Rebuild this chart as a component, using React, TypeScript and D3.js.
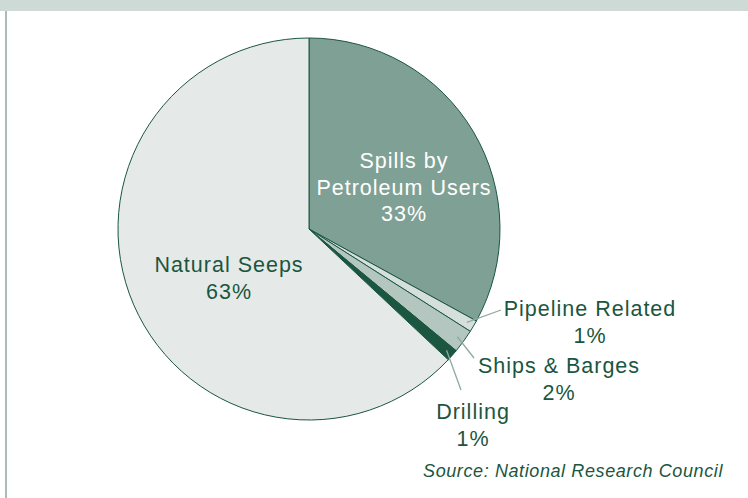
import React, { useEffect, useRef } from 'react';
import * as d3 from 'd3';

// data
const categories = ['Spills by Petroleum Users', 'Pipeline Related', 'Ships & Barges', 'Drilling', 'Natural Seeps'];
const shares = [33, 1, 2, 1, 63];
const labelLines = [
  ['Spills by', 'Petroleum Users', '33%'],
  ['Pipeline Related', '1%'],
  ['Ships & Barges', '2%'],
  ['Drilling', '1%'],
  ['Natural Seeps', '63%'],
];
const sourceNote = 'Source: National Research Council';

const fills = ['#7fa195', '#d5e0dc', '#b3c6bf', '#1b5640', '#e5eae8'];
const ink = '#1b5640';

interface Slice {
  name: string;
  value: number;
  lines: string[];
  fill: string;
}

const slices: Slice[] = categories.map((name, i) => ({
  name,
  value: shares[i],
  lines: labelLines[i],
  fill: fills[i],
}));

// label placement: centre x, first baseline, colour, leader end (null = no leader)
const labelLayout: { x: number; y: number; color: string; leader: [number, number] | null }[] = [
  { x: 404, y: 168, color: '#ffffff', leader: null },
  { x: 590, y: 316, color: ink, leader: [501, 310] },
  { x: 559, y: 373, color: ink, leader: [474, 358] },
  { x: 473, y: 419, color: ink, leader: [461, 390] },
  { x: 229, y: 272, color: ink, leader: null },
];

const Chart: React.FC = () => {
  const svgRef = useRef<SVGSVGElement | null>(null);

  useEffect(() => {
    document.body.style.margin = '0';
    if (!svgRef.current) return;

    const width = 748;
    const height = 498;
    const cx = 309;
    const cy = 229;
    const radius = 191;

    const svg = d3.select(svgRef.current)
      .attr('width', width)
      .attr('height', height)
      .html('');

    // header band and left rule
    svg.append('rect')
      .attr('x', 0).attr('y', 0)
      .attr('width', width).attr('height', 11)
      .attr('fill', '#cddad5');
    svg.append('rect')
      .attr('x', 5).attr('y', 11)
      .attr('width', 2).attr('height', height - 11)
      .attr('fill', '#a9bdb5');

    const pie = d3.pie<Slice>()
      .sort(null)
      .value(d => d.value)
      .startAngle(0)
      .endAngle(2 * Math.PI);

    const arc = d3.arc<d3.PieArcDatum<Slice>>()
      .innerRadius(0)
      .outerRadius(radius);

    const leaderArc = d3.arc<d3.PieArcDatum<Slice>>()
      .innerRadius(radius * 0.96)
      .outerRadius(radius * 0.96);

    const arcs = pie(slices);
    const g = svg.append('g').attr('transform', `translate(${cx}, ${cy})`);

    g.selectAll('path.slice')
      .data(arcs)
      .enter()
      .append('path')
      .attr('class', 'slice')
      .attr('d', arc)
      .attr('fill', d => d.data.fill)
      .attr('stroke', ink)
      .attr('stroke-width', 1)
      .attr('stroke-linejoin', 'round');

    // leader lines for the thin slices
    arcs.forEach((a, i) => {
      const lay = labelLayout[i];
      if (!lay.leader) return;
      const [sx, sy] = leaderArc.centroid(a);
      svg.append('line')
        .attr('x1', cx + sx)
        .attr('y1', cy + sy)
        .attr('x2', lay.leader[0])
        .attr('y2', lay.leader[1])
        .attr('stroke', '#8fa9a0')
        .attr('stroke-width', 1.3);
    });

    // labels
    arcs.forEach((a, i) => {
      const lay = labelLayout[i];
      const t = svg.append('text')
        .attr('text-anchor', 'middle')
        .attr('font-family', '"Liberation Sans", Arial, sans-serif')
        .attr('font-size', 21.5)
        .attr('letter-spacing', 1)
        .attr('fill', lay.color);
      a.data.lines.forEach((line, k) => {
        t.append('tspan')
          .attr('x', lay.x)
          .attr('y', lay.y + k * 26.5)
          .text(line);
      });
    });

    svg.append('text')
      .attr('x', 723)
      .attr('y', 477)
      .attr('text-anchor', 'end')
      .attr('font-family', '"Liberation Sans", Arial, sans-serif')
      .attr('font-style', 'italic')
      .attr('font-size', 18)
      .attr('letter-spacing', 0.6)
      .attr('fill', ink)
      .text(sourceNote);
  }, []);

  return <svg ref={svgRef} style={{ display: 'block' }}></svg>;
};

export default function App() {
  return <Chart />;
}
